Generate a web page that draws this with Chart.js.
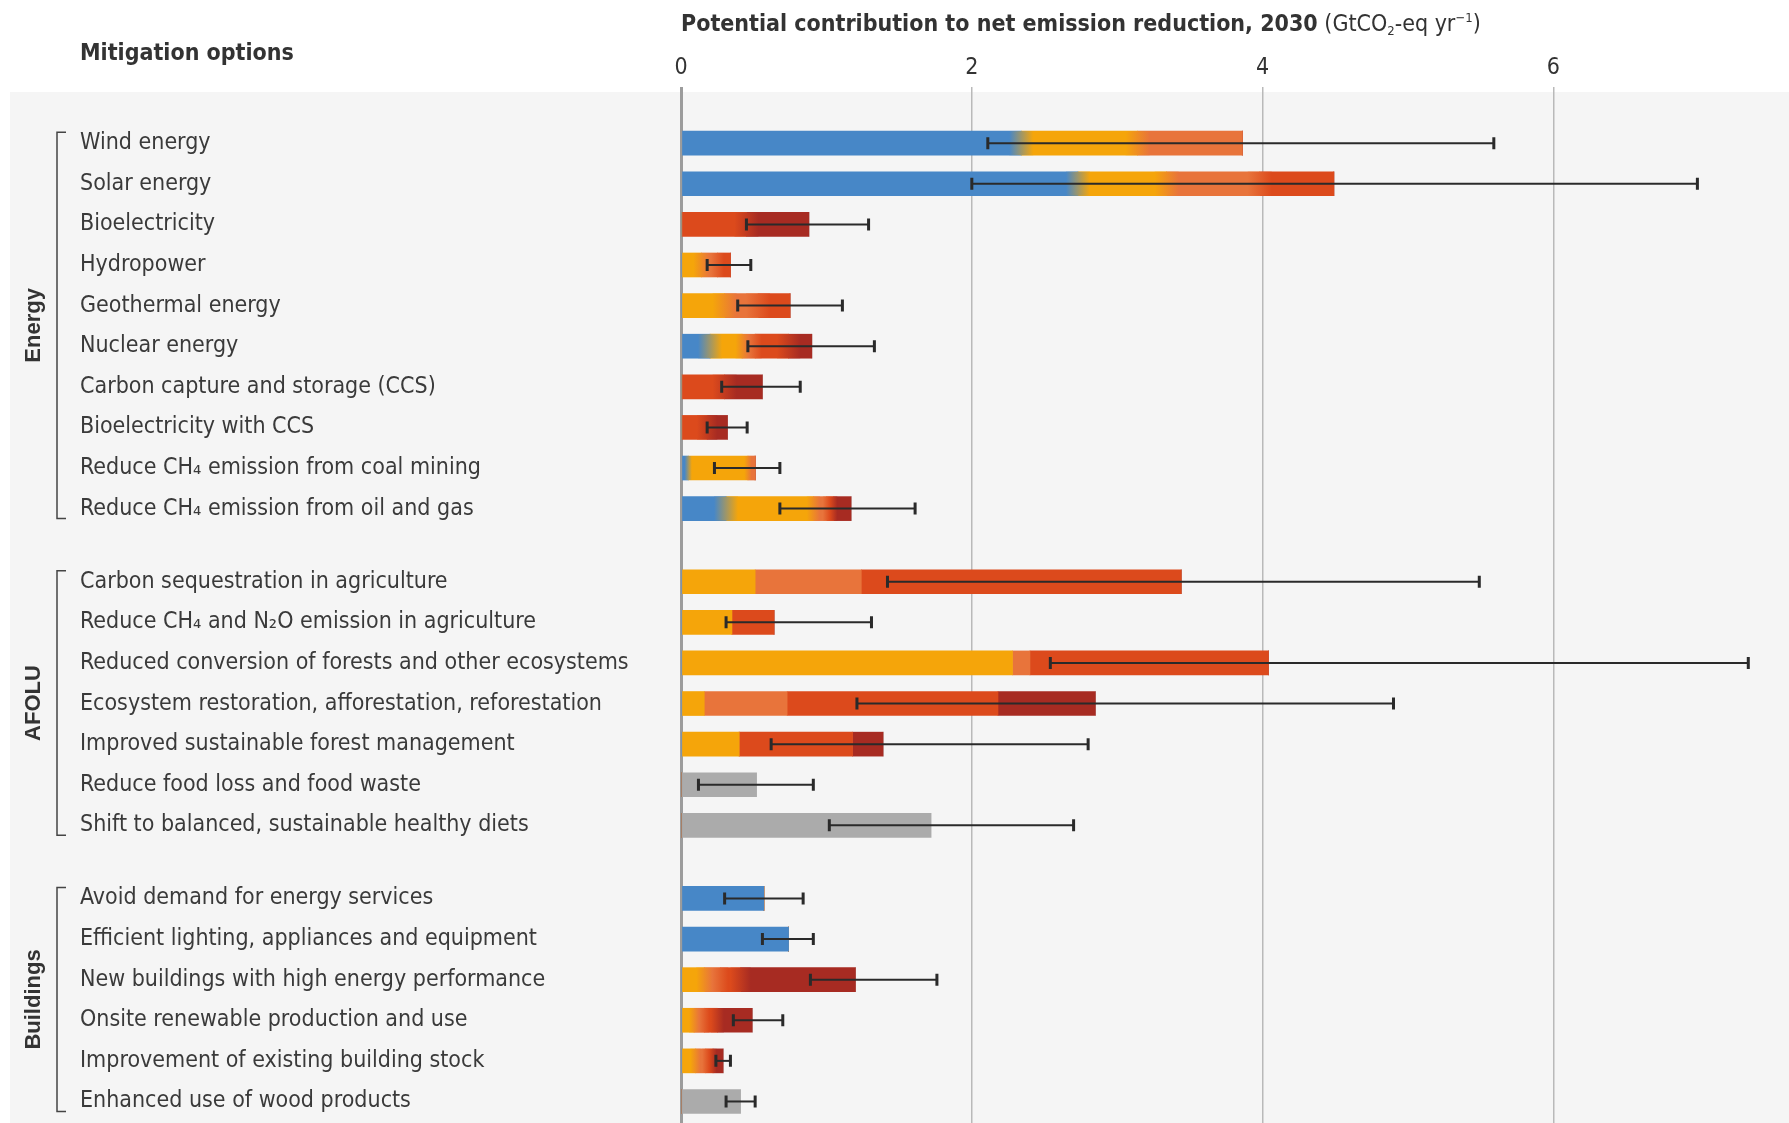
<!DOCTYPE html>
<html>
<head>
<meta charset="utf-8">
<title>Mitigation options</title>
<script src="https://cdn.jsdelivr.net/npm/chart.js@4.4.1/dist/chart.umd.min.js"></script>
<style>
  html, body { margin: 0; padding: 0; background: #fff; }
  #wrap { position: relative; width: 1789px; height: 1123px; overflow: hidden; }
  #mitigationChart { position: absolute; left: 0; top: 0; }
  .hdr {
    position: absolute;
    font-family: 'Liberation Sans Narrow', 'DejaVu Sans Condensed', sans-serif;
    color: #333;
    white-space: nowrap;
  }
  .hdr small { font-size: 13px; }
</style>
</head>
<body>
<div id="wrap">
  <canvas id="mitigationChart" width="1789" height="1123"></canvas>
  <div class="hdr" style="left:80px; top:39px; font-size:23px; font-weight:bold;">Mitigation options</div>
  <div class="hdr" style="left:681px; top:10px; font-size:23px;"><b>Potential contribution to net emission reduction, 2030</b> (GtCO<small style="vertical-align:-4px">2</small>-eq yr<small style="vertical-align:9px">−1</small>)</div>
</div>

<script>
// options, grouped by sector (top to bottom)
const categories = [
    'Wind energy',
    'Solar energy',
    'Bioelectricity',
    'Hydropower',
    'Geothermal energy',
    'Nuclear energy',
    'Carbon capture and storage (CCS)',
    'Bioelectricity with CCS',
    'Reduce CH\u2084 emission from coal mining',
    'Reduce CH\u2084 emission from oil and gas',
    'Carbon sequestration in agriculture',
    'Reduce CH\u2084 and N\u2082O emission in agriculture',
    'Reduced conversion of forests and other ecosystems',
    'Ecosystem restoration, afforestation, reforestation',
    'Improved sustainable forest management',
    'Reduce food loss and food waste',
    'Shift to balanced, sustainable healthy diets',
    'Avoid demand for energy services',
    'Efficient lighting, appliances and equipment',
    'New buildings with high energy performance',
    'Onsite renewable production and use',
    'Improvement of existing building stock',
    'Enhanced use of wood products'
];
const sectorNames = ['Energy', 'AFOLU', 'Buildings'];
const sectorSizes = [10, 7, 6];

// contribution split by net lifetime cost band, GtCO2-eq/yr
const costBelow0      = [2.34, 2.73, 0, 0, 0, 0.20, 0, 0, 0.05, 0.31,  0, 0, 0, 0, 0, 0, 0,  0.57, 0.74, 0, 0, 0, 0];
const cost0to20       = [0.80, 0.61, 0, 0.14, 0.30, 0.22, 0, 0, 0.41, 0.60,  0.51, 0.35, 2.28, 0.16, 0.40, 0, 0,  0, 0, 0.16, 0.09, 0.10, 0];
const cost20to50      = [0.72, 0.64, 0, 0.11, 0.23, 0.09, 0, 0, 0.05, 0.09,  0.73, 0, 0.12, 0.57, 0, 0, 0,  0, 0, 0.11, 0.07, 0.07, 0];
const cost50to100     = [0, 0.51, 0.45, 0.09, 0.22, 0.23, 0.30, 0.18, 0, 0.05,  2.20, 0.29, 1.64, 1.45, 0.78, 0, 0,  0, 0, 0.14, 0.09, 0.05, 0];
const cost100to200    = [0, 0, 0.43, 0, 0, 0.16, 0.26, 0.14, 0, 0.12,  0, 0, 0, 0.67, 0.21, 0, 0,  0, 0, 0.79, 0.24, 0.07, 0];
const costUnallocated = [0, 0, 0, 0, 0, 0, 0, 0, 0, 0,  0, 0, 0, 0, 0, 0.52, 1.72,  0, 0, 0, 0, 0, 0.41];

// uncertainty range
const errLow  = [2.11, 2.00, 0.45, 0.18, 0.39, 0.46, 0.28, 0.18, 0.23, 0.68,  1.42, 0.31, 2.54, 1.21, 0.62, 0.12, 1.02,  0.30, 0.56, 0.89, 0.36, 0.24, 0.31];
const errHigh = [5.59, 6.99, 1.29, 0.48, 1.11, 1.33, 0.82, 0.455, 0.68, 1.61,  5.49, 1.31, 7.34, 4.90, 2.80, 0.91, 2.70,  0.84, 0.91, 1.76, 0.70, 0.34, 0.51];

const xTicks = [0, 2, 4, 6];

const FONT = "'Liberation Sans Narrow', 'DejaVu Sans Condensed', sans-serif";
const SECTOR_GAP = 0.8;
const BAR_H = 24;
// energy and buildings bars blend softly between cost bands
const sectorBlend = [true, false, true];

// row positions on the y scale: one unit per option, plus a gap between sectors
const rowPos = [];
const rowSector = [];
const sectorRows = [];
{
    let r = 0;
    sectorSizes.forEach((n, s) => {
        const rows = [];
        for (let k = 0; k < n; k++, r++) {
            rowPos.push(r + s * SECTOR_GAP);
            rowSector.push(s);
            rows.push(rowPos.length - 1);
        }
        sectorRows.push(rows);
    });
}

function series(values) {
    return values.map((v, i) => ({ x: v, y: rowPos[i] }));
}

const bands = [
    { label: 'Net lifetime cost < 0', data: costBelow0, color: '#4787c7' },
    { label: '0–20 USD', data: cost0to20, color: '#f5a50a' },
    { label: '20–50 USD', data: cost20to50, color: '#e8743b' },
    { label: '50–100 USD', data: cost50to100, color: '#dc4a1c' },
    { label: '100–200 USD', data: cost100to200, color: '#a72b22' },
    { label: 'Cost not allocated', data: costUnallocated, color: '#ababab' }
];

const overlays = {
    id: 'overlays',
    beforeDraw(chart) {
        const { ctx, chartArea } = chart;
        ctx.save();
        ctx.fillStyle = '#ffffff';
        ctx.fillRect(0, 0, chart.width, chart.height);
        ctx.fillStyle = '#f5f5f5';
        ctx.fillRect(10, chartArea.top, chart.width - 10, chart.height - chartArea.top);
        ctx.restore();
    },
    afterDatasetsDraw(chart) {
        const { ctx } = chart;
        const xs = chart.scales.x, ys = chart.scales.y;
        ctx.save();

        // soft transitions between adjacent cost bands
        rowPos.forEach((p, i) => {
            if (!sectorBlend[rowSector[i]]) return;
            const y = ys.getPixelForValue(p);
            const segs = [];
            let cum = 0;
            bands.forEach(b => {
                const v = b.data[i];
                if (v > 0) {
                    segs.push({ x0: xs.getPixelForValue(cum), x1: xs.getPixelForValue(cum + v), color: b.color });
                    cum += v;
                }
            });
            for (let k = 1; k < segs.length; k++) {
                const a = segs[k - 1], b = segs[k];
                const w = Math.min(12, (a.x1 - a.x0) / 2, (b.x1 - b.x0) / 2);
                if (w < 1) continue;
                const g = ctx.createLinearGradient(b.x0 - w, 0, b.x0 + w, 0);
                g.addColorStop(0, a.color);
                g.addColorStop(1, b.color);
                ctx.fillStyle = g;
                ctx.fillRect(b.x0 - w, y - BAR_H / 2, 2 * w, BAR_H);
            }
        });

        // uncertainty whiskers
        ctx.strokeStyle = '#2a2a2a';
        rowPos.forEach((p, i) => {
            const y = ys.getPixelForValue(p);
            const x1 = xs.getPixelForValue(errLow[i]);
            const x2 = xs.getPixelForValue(errHigh[i]);
            ctx.lineWidth = 2;
            ctx.beginPath();
            ctx.moveTo(x1, y);
            ctx.lineTo(x2, y);
            ctx.stroke();
            ctx.lineWidth = 3;
            ctx.beginPath();
            ctx.moveTo(x1, y - 6);
            ctx.lineTo(x1, y + 6);
            ctx.moveTo(x2, y - 6);
            ctx.lineTo(x2, y + 6);
            ctx.stroke();
        });
        ctx.restore();
    },
    afterDraw(chart) {
        const { ctx } = chart;
        const ys = chart.scales.y;
        ctx.save();
        sectorRows.forEach((rows, s) => {
            const top = ys.getPixelForValue(rowPos[rows[0]]) - 11;
            const bottom = ys.getPixelForValue(rowPos[rows[rows.length - 1]]) + 10;
            ctx.strokeStyle = '#444';
            ctx.lineWidth = 1.5;
            ctx.beginPath();
            ctx.moveTo(66, top);
            ctx.lineTo(57, top);
            ctx.lineTo(57, bottom);
            ctx.lineTo(66, bottom);
            ctx.stroke();

            ctx.translate(34, (top + bottom) / 2);
            ctx.rotate(-Math.PI / 2);
            ctx.fillStyle = '#333';
            ctx.font = "bold 22px 'Liberation Sans', sans-serif";
            ctx.textAlign = 'center';
            ctx.textBaseline = 'middle';
            ctx.fillText(sectorNames[s], 0, 0);
            ctx.setTransform(1, 0, 0, 1, 0, 0);
        });
        ctx.restore();
    }
};

const ctx = document.getElementById('mitigationChart').getContext('2d');
const chart = new Chart(ctx, {
    type: 'bar',
    data: {
        datasets: bands.map(b => ({
            label: b.label,
            data: series(b.data),
            backgroundColor: b.color,
            borderWidth: 0,
            barThickness: BAR_H
        }))
    },
    options: {
        indexAxis: 'y',
        responsive: false,
        devicePixelRatio: 1,
        animation: false,
        layout: { padding: { left: 80, top: 52, right: 0, bottom: 0 } },
        plugins: {
            legend: { display: false },
            tooltip: { enabled: false }
        },
        scales: {
            x: {
                type: 'linear',
                position: 'top',
                min: 0,
                max: 7.62,
                offset: false,
                stacked: true,
                afterBuildTicks: s => { s.ticks = xTicks.map(v => ({ value: v })); },
                afterFit: s => { s.height = 40; s.paddingLeft = 0; s.paddingRight = 0; },
                border: { display: false },
                grid: {
                    color: c => (c.tick && c.tick.value === 0) ? '#9c9c9c' : '#b9b9b9',
                    lineWidth: c => (c.tick && c.tick.value === 0) ? 3 : 1.5,
                    tickLength: 5
                },
                ticks: {
                    font: { family: FONT, size: 23 },
                    color: '#333',
                    padding: 5,
                    maxRotation: 0
                }
            },
            y: {
                type: 'linear',
                reverse: true,
                min: -1.26,
                max: 24.13,
                offset: false,
                stacked: true,
                afterBuildTicks: s => { s.ticks = rowPos.map(v => ({ value: v })); },
                afterFit: s => { s.width = 601; s.paddingTop = 0; s.paddingBottom = 0; },
                border: { display: false },
                grid: { display: false },
                ticks: {
                    autoSkip: false,
                    crossAlign: 'far',
                    padding: 0,
                    font: { family: FONT, size: 23 },
                    color: '#3a3a3a',
                    callback: (v, i) => categories[i]
                }
            }
        }
    },
    plugins: [overlays]
});
</script>
</body>
</html>
